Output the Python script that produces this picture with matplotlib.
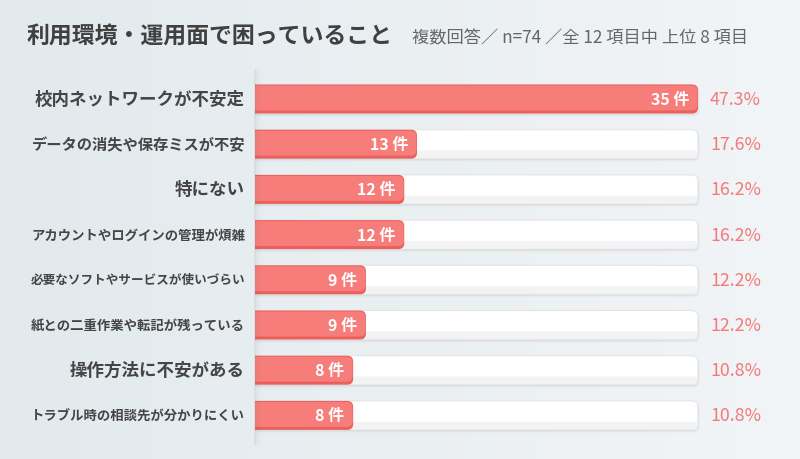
import matplotlib
matplotlib.use("Agg")
import matplotlib.pyplot as plt
import numpy as np
from matplotlib.patches import FancyBboxPatch, Rectangle
from matplotlib.colors import LinearSegmentedColormap

plt.rcParams['font.family'] = ['Noto Sans CJK JP', 'DejaVu Sans']

categories = ['校内ネットワークが不安定', 'データの消失や保存ミスが不安', '特にない',
              'アカウントやログインの管理が煩雑', '必要なソフトやサービスが使いづらい',
              '紙との二重作業や転記が残っている', '操作方法に不安がある',
              'トラブル時の相談先が分かりにくい']
counts = [35, 13, 12, 12, 9, 9, 8, 8]
percents = [47.3, 17.6, 16.2, 16.2, 12.2, 12.2, 10.8, 10.8]
max_count = 35

title = '利用環境・運用面で困っていること'
subtitle = '複数回答／ n=74 ／全 12 項目中 上位 8 項目'

W, H = 800, 460
fig = plt.figure(figsize=(W / 100, H / 100), dpi=100)

# background gradient
bg = fig.add_axes([0, 0, 1, 1], zorder=0)
bg.set_axis_off()
grad = np.linspace(0, 1, 256)[None, :]
cmap = LinearSegmentedColormap.from_list('bg', ['#e2eaed', '#eaeff2', '#f2f5f8'])
bg.imshow(grad, aspect='auto', cmap=cmap, extent=[0, W, H, 0])
bg.set_xlim(0, W)
bg.set_ylim(H, 0)

fig.text(27 / W, 1 - 36 / H, title, fontsize=16.5, fontweight='bold', color='#404040',
         va='center', ha='left')
fig.text(412 / W, 1 - 38 / H, subtitle, fontsize=12.4, color='#666666', va='center', ha='left')

# bar axes: zero sits just under the label panel, 35 -> px 698
x0, x1, panel = 251, 698, 255
row0, step = 100, 45.2
top = row0 - step / 2
bottom = top + step * len(categories)
ax = fig.add_axes([x0 / W, 1 - bottom / H, (x1 - x0) / W, (bottom - top) / H], zorder=1)
ax.set_xlim(0, max_count)
ax.set_ylim(len(categories) - 0.5, -0.5)
ax.set_axis_off()
ax.patch.set_alpha(0)

pxx = (x1 - x0) / max_count
pxy = step
aspect = pxx / pxy
bh = 29 / pxy
r = 6 / pxx

for i, (c, p) in enumerate(zip(counts, percents)):
    # track shadow
    for k, a in enumerate([0.10, 0.06, 0.03]):
        off = (1.0 + k) / pxy
        ax.add_patch(FancyBboxPatch((-1, i - bh / 2 + off), max_count + 1 + (0.6 + k * 0.5) / pxx, bh,
                                    boxstyle=f'round,pad=0,rounding_size={r}', mutation_aspect=aspect,
                                    fc='#707070', ec='none', alpha=a, zorder=1, clip_on=False))
    ax.add_patch(FancyBboxPatch((-1, i - bh / 2), max_count + 1, bh,
                                boxstyle=f'round,pad=0,rounding_size={r}', mutation_aspect=aspect,
                                fc='#ffffff', ec='#e4e4e4', lw=0.8, zorder=2, clip_on=False))
    ax.add_patch(FancyBboxPatch((-1, i - bh / 2 + bh * 0.72), max_count + 1, bh * 0.28,
                                boxstyle=f'round,pad=0,rounding_size={r * 0.5}', mutation_aspect=aspect,
                                fc='#eeeeee', ec='none', alpha=0.7, zorder=2, clip_on=False))
    # red bar
    ax.add_patch(FancyBboxPatch((-1, i - bh / 2), c + 1, bh,
                                boxstyle=f'round,pad=0,rounding_size={r}', mutation_aspect=aspect,
                                fc='#e9605c', ec='none', zorder=3, clip_on=False))
    ax.add_patch(FancyBboxPatch((-1, i - bh / 2 + 1 / pxy), c + 1 - 0.5 / pxx, bh - 4 / pxy,
                                boxstyle=f'round,pad=0,rounding_size={r}', mutation_aspect=aspect,
                                fc='#f77d7b', ec='none', zorder=3, clip_on=False))
    ax.annotate(f'{c} 件', (c, i), xytext=(-9, 0), textcoords='offset pixels',
                ha='right', va='center', fontsize=11.5, fontweight='bold', color='white', zorder=5)
    ax.annotate(f'{p:.1f}%', (max_count, i), xytext=(12, 0), textcoords='offset pixels',
                ha='left', va='center', fontsize=12.8, color='#f47a78', zorder=5)

# label panel covers the square bar starts
mask = fig.add_axes([0, 0, panel / W, 1], zorder=2)
mask.set_axis_off()
mask.imshow(grad[:, :int(256 * panel / W)], aspect='auto', cmap=cmap, extent=[0, panel, H, 0],
            vmin=0, vmax=1)
mask.set_xlim(0, panel)
mask.set_ylim(H, 0)

fig.canvas.draw()
renderer = fig.canvas.get_renderer()
max_w = 214
for i, lab in enumerate(categories):
    t = mask.text(245, row0 + i * step, lab, ha='right', va='center', fontsize=12.6,
                  fontweight='bold', color='#454545', zorder=5)
    w = t.get_window_extent(renderer).width
    if w > max_w:
        t.set_fontsize(12.6 * max_w / w)

# panel edge shadow
for i, a in enumerate([0.10, 0.07, 0.045, 0.025, 0.012]):
    fig.patches.append(Rectangle(((panel - 1 + i * 1.6) / W, 1 - 446 / H), 1.6 / W, 376 / H,
                                 transform=fig.transFigure, color='#5a6a70', alpha=a, lw=0, zorder=10))

fig.savefig('out.png', dpi=100)
